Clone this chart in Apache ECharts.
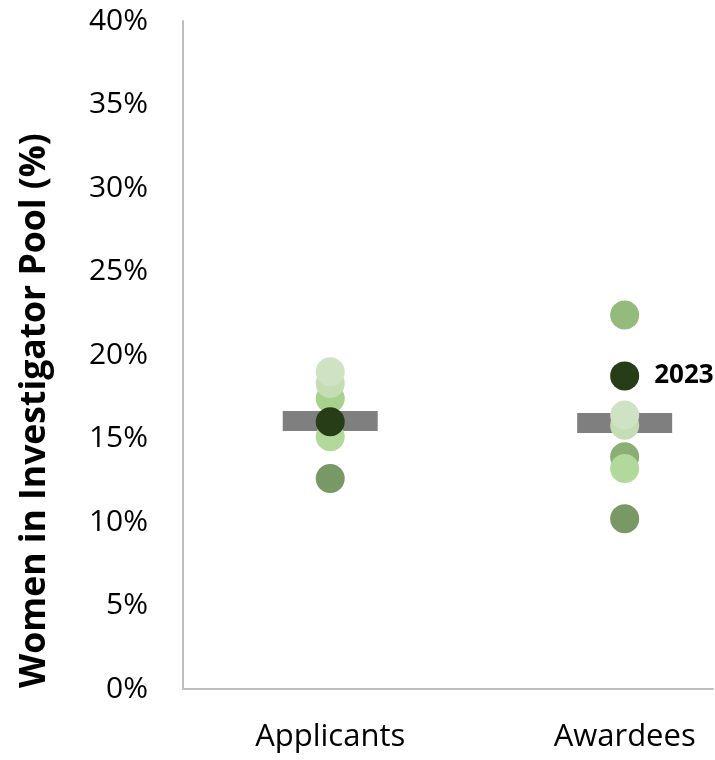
<!DOCTYPE html>
<html>
<head>
<meta charset="utf-8">
<script src="https://cdn.jsdelivr.net/npm/echarts@6/dist/echarts.min.js"></script>
<style>html,body{margin:0;padding:0;background:#fff}#c{width:715px;height:760px}</style>
</head>
<body>
<div id="c"></div>
<script>
var categories = ['Applicants', 'Awardees'];
var yTicks = [0, 5, 10, 15, 20, 25, 30, 35, 40];
var yTitle = 'Women in Investigator Pool (%)';
var applicantValues = [12.6, 17.4, 18.3, 19.0, 15.1, 16.0];
var applicantColors = ['#789865', '#a9d18e', '#c5ddb5', '#cfe3c4', '#b3d89c', '#263d17'];
var awardeeValues = [10.2, 22.4, 13.9, 13.2, 15.8, 16.4, 18.75];
var awardeeColors = ['#789865', '#94ba7c', '#8aae73', '#b3d89c', '#c5ddb5', '#cfe3c4', '#263d17'];
var meanValues = [16.05, 15.93];
var highlightLabel = '2023';

function pts(catIdx, vals, cols, labelLast) {
  return vals.map(function (v, i) {
    var d = { value: [catIdx + 1, v], itemStyle: { color: cols[i], opacity: 1 } };
    if (labelLast && i === vals.length - 1) {
      d.label = { show: true, position: 'right', distance: 15, formatter: highlightLabel,
        color: '#000', fontWeight: 'bold', fontSize: 26, fontFamily: 'Open Sans' };
    }
    return d;
  });
}

var chart = echarts.init(document.getElementById('c'));
chart.setOption({
  animation: false,
  grid: { left: 183, right: 2, top: 21, bottom: 71 },
  graphic: [{
    type: 'text', x: 35, y: 688, rotation: Math.PI / 2,
    style: { text: yTitle, fill: '#000', font: 'bold 35.5px "Open Sans"', textAlign: 'left', textVerticalAlign: 'middle' }
  }],
  xAxis: {
    type: 'value', min: 0.5, max: 2.3, interval: 0.5,
    splitLine: { show: false },
    axisTick: { show: false },
    axisLine: { show: true, lineStyle: { color: '#bfbfbf', width: 2 } },
    axisLabel: {
      showMaxLabel: false, showMinLabel: false,
      margin: 33, fontSize: 31, color: '#000', fontFamily: 'Open Sans',
      formatter: function (v) {
        var i = Math.round(v) - 1;
        return (Math.abs(v - Math.round(v)) < 1e-6 && categories[i]) ? categories[i] : '';
      }
    }
  },
  yAxis: {
    type: 'value', min: yTicks[0], max: yTicks[yTicks.length - 1], interval: 5,
    splitLine: { show: false },
    axisTick: { show: false },
    axisLine: { show: true, lineStyle: { color: '#bfbfbf', width: 2 } },
    axisLabel: { margin: 35, fontSize: 30, color: '#000', fontFamily: 'Open Sans', formatter: '{value}%' }
  },
  series: [
    {
      type: 'scatter', symbol: 'rect', symbolSize: [95, 20], z: 1,
      itemStyle: { color: '#7f7f7f', opacity: 1 },
      data: meanValues.map(function (v, i) { return [i + 1, v]; })
    },
    { type: 'scatter', symbolSize: 29, z: 2, data: pts(0, applicantValues, applicantColors, false) },
    { type: 'scatter', symbolSize: 29, z: 2, data: pts(1, awardeeValues, awardeeColors, true) }
  ]
});
</script>
</body>
</html>
